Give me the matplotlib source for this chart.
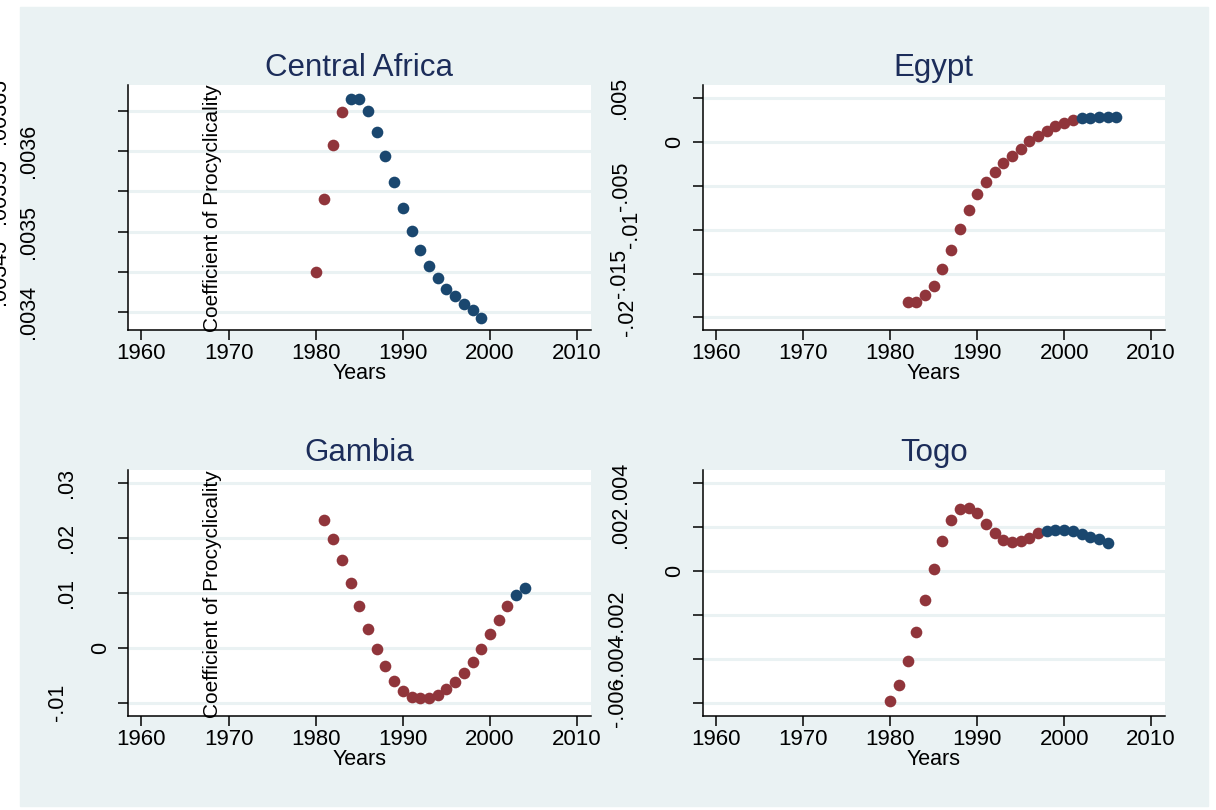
import matplotlib.pyplot as plt
from matplotlib.patches import Rectangle
from matplotlib import transforms

plt.rcParams['font.family'] = ['Liberation Sans', 'DejaVu Sans']

W, H = 1216, 810
MAROON = '#90353B'
NAVY = '#1A476F'
BG = '#EAF2F3'
TITLE_C = '#1C2D5A'

# Central Africa
ca_years_red = [1980, 1981, 1982, 1983]
ca_vals_red = [0.003450, 0.003541, 0.003607, 0.003648]
ca_years_blue = [1984, 1985, 1986, 1987, 1988, 1989, 1990, 1991, 1992, 1993,
                 1994, 1995, 1996, 1997, 1998, 1999]
ca_vals_blue = [0.003665, 0.003664, 0.003650, 0.003624, 0.003594, 0.003561,
                0.003529, 0.003501, 0.003477, 0.003457, 0.003442, 0.003429,
                0.003420, 0.003410, 0.003403, 0.003393]
ca_yticks = [0.0034, 0.00345, 0.0035, 0.00355, 0.0036, 0.00365]

# Egypt
eg_years_red = [1982, 1983, 1984, 1985, 1986, 1987, 1988, 1989, 1990, 1991,
                1992, 1993, 1994, 1995, 1996, 1997, 1998, 1999, 2000, 2001]
eg_vals_red = [-0.0183, -0.0182, -0.0175, -0.0164, -0.0145, -0.0123, -0.0099,
               -0.0078, -0.0059, -0.0046, -0.0034, -0.0024, -0.0016, -0.0008,
               0.0001, 0.0007, 0.0013, 0.0018, 0.0022, 0.0025]
eg_years_blue = [2002, 2003, 2004, 2005, 2006]
eg_vals_blue = [0.0027, 0.0028, 0.0029, 0.0029, 0.0029]
eg_yticks = [-0.02, -0.015, -0.01, -0.005, 0, 0.005]

# Gambia
ga_years_red = [1981, 1982, 1983, 1984, 1985, 1986, 1987, 1988, 1989, 1990,
                1991, 1992, 1993, 1994, 1995, 1996, 1997, 1998, 1999, 2000,
                2001, 2002]
ga_vals_red = [0.0233, 0.0198, 0.0160, 0.0119, 0.0076, 0.0035, -0.0002, -0.0034,
               -0.0060, -0.0078, -0.0089, -0.0092, -0.0092, -0.0086, -0.0075,
               -0.0062, -0.0046, -0.0025, -0.0002, 0.0026, 0.0051, 0.0077]
ga_years_blue = [2003, 2004]
ga_vals_blue = [0.0097, 0.0109]
ga_yticks = [-0.01, 0, 0.01, 0.02, 0.03]

# Togo
to_years_red = [1980, 1981, 1982, 1983, 1984, 1985, 1986, 1987, 1988, 1989,
                1990, 1991, 1992, 1993, 1994, 1995, 1996, 1997]
to_vals_red = [-0.00594, -0.00518, -0.00409, -0.00277, -0.00134, 0.00009,
               0.00135, 0.00231, 0.00281, 0.00286, 0.00263, 0.00214, 0.00173,
               0.00141, 0.00131, 0.00138, 0.00152, 0.00172]
to_years_blue = [1998, 1999, 2000, 2001, 2002, 2003, 2004, 2005]
to_vals_blue = [0.00184, 0.00188, 0.00188, 0.00182, 0.00169, 0.00157, 0.00146,
                0.00129]
to_yticks = [-0.006, -0.004, -0.002, 0, 0.002, 0.004]

xticks = [1960, 1970, 1980, 1990, 2000, 2010]

fig = plt.figure(figsize=(12.16, 8.10), dpi=100)
fig.patches.append(Rectangle((20 / W, 1 - 806 / H), (1208 - 20) / W, (806 - 7) / H,
                             transform=fig.transFigure, color=BG, zorder=-10))


def make_panel(box, title, yr_r, v_r, yr_b, v_b, yticks, ylim, labels, ytitle):
    l, t, r, b = box
    ax = fig.add_axes([l / W, 1 - b / H, (r - l) / W, (b - t) / H])
    ax.set_facecolor('white')
    ax.set_xlim(1958.4, 2011.6)
    ax.set_ylim(*ylim)
    for s in ['top', 'right']:
        ax.spines[s].set_visible(False)
    for s in ['left', 'bottom']:
        ax.spines[s].set_linewidth(1.1)
        ax.spines[s].set_zorder(4)
    ax.set_xticks(xticks)
    ax.set_yticks(yticks)
    ax.set_yticklabels([])
    ax.tick_params(direction='out', length=7, width=1.1, labelsize=16, pad=2.5)
    for v in yticks:
        ax.axhline(v, color=BG, lw=2.2, zorder=1)
    ax.plot(yr_r, v_r, 'o', color=MAROON, ms=8.4, mec='none', zorder=3)
    ax.plot(yr_b, v_b, 'o', color=NAVY, ms=8.4, mec='none', zorder=3)
    ax.set_title(title, fontsize=22.5, color=TITLE_C, pad=6.8)
    ax.set_xlabel('Years', fontsize=15.5, labelpad=-1)

    # stata's odd y label placement, copied by pixel column
    tr = transforms.blended_transform_factory(fig.transFigure, ax.transData)
    for v, txt, xp in labels:
        ax.text(xp / W, v, txt, transform=tr, rotation=90, ha='center',
                va='center', fontsize=15.5, clip_on=False)
    if ytitle:
        fig.text(213 / W, 1 - (b + 2) / H, 'Coefficient of Procyclicality',
                 rotation=90, ha='center', va='bottom', fontsize=15)
    return ax


make_panel((127.5, 85, 591, 330), 'Central Africa',
           ca_years_red, ca_vals_red, ca_years_blue, ca_vals_blue,
           ca_yticks, (0.0033777, 0.003682),
           [(0.0034, '.0034', 28), (0.0035, '.0035', 28), (0.0036, '.0036', 28),
            (0.00345, '.00345', 0), (0.00355, '.00355', 0), (0.00365, '.00365', 0)],
           True)

make_panel((702.5, 85, 1165, 330), 'Egypt',
           eg_years_red, eg_vals_red, eg_years_blue, eg_vals_blue,
           eg_yticks, (-0.02145, 0.00652),
           [(0.005, '.005', 620), (0, '0', 675), (-0.005, '-.005', 622),
            (-0.01, '-.01', 632), (-0.015, '-.015', 620), (-0.02, '-.02', 628)],
           False)

make_panel((127.5, 470, 591, 716), 'Gambia',
           ga_years_red, ga_vals_red, ga_years_blue, ga_vals_blue,
           ga_yticks, (-0.01243, 0.03243),
           [(0.03, '.03', 66), (0.02, '.02', 66), (0.01, '.01', 66),
            (0, '0', 101), (-0.01, '-.01', 58)],
           True)

make_panel((702.5, 470, 1165, 716), 'Togo',
           to_years_red, to_vals_red, to_years_blue, to_vals_blue,
           to_yticks, (-0.006608, 0.004608),
           [(0.004, '.004', 621), (0.002, '.002', 621), (0, '0', 675),
            (-0.002, '-.002', 618), (-0.004, '-.004', 618), (-0.006, '-.006', 618)],
           False)

fig.savefig('out.png', dpi=100)
